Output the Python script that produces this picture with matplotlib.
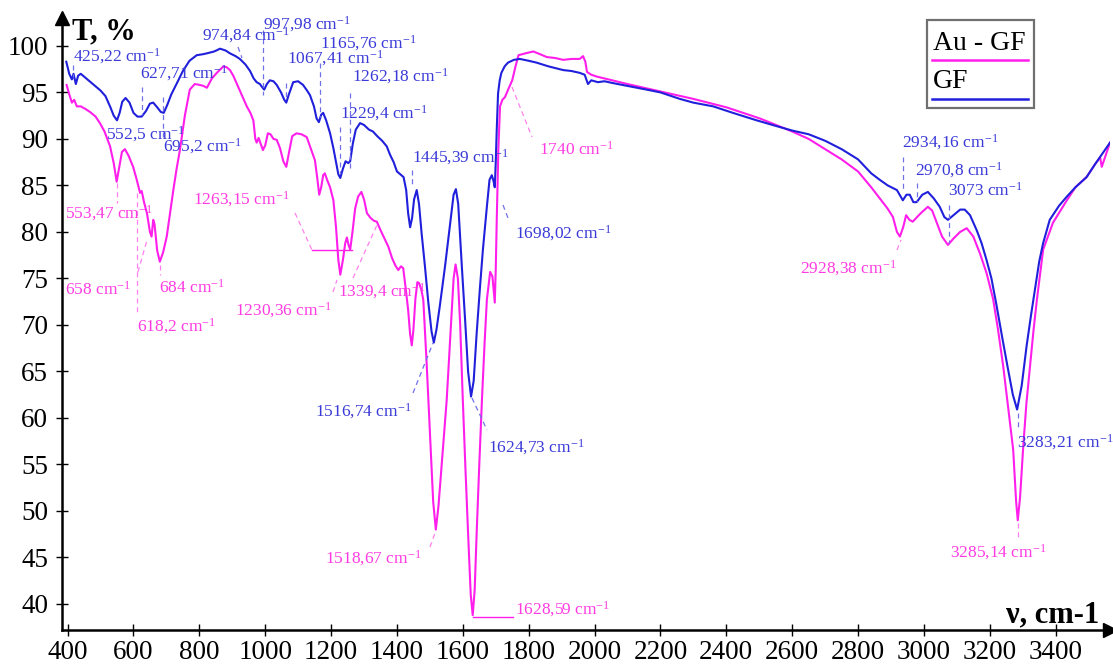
import matplotlib
matplotlib.use("Agg")
import matplotlib.pyplot as plt
from matplotlib.patches import Rectangle
from matplotlib.lines import Line2D

plt.rcParams['font.family'] = ['Liberation Serif', 'DejaVu Serif']
plt.rcParams['mathtext.default'] = 'regular'

# ---------------- data ----------------
gf_wavenumber = [396, 405, 413, 418, 425, 432, 440, 460, 480, 500, 515, 530, 540, 550, 558, 566, 576, 588,
                 600, 612, 625, 638, 650, 660, 672, 683, 692, 702, 715, 732, 750, 770, 792, 810, 823, 845,
                 863, 880, 893, 910, 923, 940, 954, 965, 974, 984, 990, 997, 1005, 1014, 1025, 1035, 1048,
                 1058, 1064, 1072, 1085, 1100, 1115, 1127, 1136, 1148, 1156, 1163, 1170, 1176, 1185, 1197,
                 1207, 1215, 1222, 1228, 1236, 1244, 1252, 1258, 1266, 1275, 1288, 1300, 1315, 1327, 1340,
                 1355, 1369, 1379, 1390, 1400, 1410, 1420, 1428, 1434, 1440, 1446, 1452, 1460, 1467, 1475,
                 1485, 1495, 1505, 1512, 1520, 1530, 1546, 1560, 1572, 1579, 1586, 1597, 1607, 1616, 1625,
                 1633, 1642, 1652, 1661, 1673, 1681, 1688, 1693, 1697, 1700, 1703, 1707, 1712, 1717, 1727,
                 1737, 1755, 1773, 1800, 1824, 1860, 1905, 1930, 1955, 1970, 1980, 1990, 2010, 2030, 2056,
                 2100, 2158, 2200, 2259, 2300, 2360, 2420, 2492, 2550, 2600, 2650, 2700, 2750, 2800, 2840,
                 2866, 2890, 2918, 2936, 2947, 2957, 2968, 2978, 2995, 3012, 3030, 3048, 3062, 3073, 3090,
                 3110, 3124, 3140, 3160, 3175, 3190, 3205, 3220, 3237, 3254, 3270, 3283, 3297, 3312, 3325,
                 3337, 3350, 3362, 3382, 3410, 3434, 3460, 3494, 3520, 3565]
gf_transmittance = [98.3, 97.0, 96.4, 97.0, 95.9, 96.8, 97.0, 96.4, 95.8, 95.2, 94.6, 93.4, 92.5, 92.0, 92.8,
                    94.0, 94.4, 93.9, 92.8, 92.4, 92.4, 93.0, 93.8, 93.9, 93.4, 92.9, 92.8, 93.6, 94.8, 96.0,
                    97.3, 98.4, 99.0, 99.1, 99.2, 99.4, 99.7, 99.5, 99.2, 98.9, 98.6, 98.0, 97.3, 96.5, 96.1,
                    95.9, 95.6, 95.3, 95.9, 96.3, 96.2, 95.8, 95.0, 94.2, 93.9, 94.8, 96.1, 96.2, 95.8, 95.2,
                    94.7, 93.5, 92.2, 91.8, 92.6, 92.8, 92.0, 90.6, 89.0, 87.5, 86.2, 85.8, 86.8, 87.6, 87.4,
                    87.6, 89.5, 91.0, 91.7, 91.5, 91.0, 90.8, 90.3, 89.8, 89.2, 88.3, 87.5, 86.5, 86.2, 85.9,
                    84.5, 82.0, 80.5, 81.5, 83.5, 84.5, 83.0, 79.8, 76.3, 72.5, 69.3, 68.1, 69.5, 72.0, 76.3,
                    80.5, 84.0, 84.6, 83.0, 76.3, 70.5, 65.0, 62.3, 64.0, 69.1, 74.0, 78.1, 82.7, 85.6, 86.1,
                    85.5, 84.8, 87.5, 91.0, 94.9, 96.3, 97.1, 97.8, 98.2, 98.5, 98.6, 98.4, 98.2, 97.8, 97.4,
                    97.3, 97.1, 96.9, 95.9, 96.3, 96.1, 96.2, 96.0, 95.7, 95.3, 95.0, 94.3, 93.9, 93.5, 92.8,
                    92.0, 91.4, 90.9, 90.5, 89.8, 88.9, 87.8, 86.3, 85.6, 85.0, 84.5, 83.4, 84.0, 84.0, 83.2,
                    83.2, 84.0, 84.3, 83.6, 82.7, 81.6, 81.3, 81.8, 82.4, 82.4, 81.8, 80.2, 78.8, 77.0, 75.0,
                    72.2, 68.8, 65.5, 62.5, 60.9, 63.5, 67.8, 71.0, 73.8, 76.8, 78.8, 81.3, 82.8, 83.8, 84.8,
                    85.9, 87.3, 89.6]

augf_wavenumber = [397, 405, 413, 420, 428, 440, 455, 468, 485, 498, 512, 529, 540, 549, 556, 565, 574, 585,
                   599, 610, 620, 625, 632, 641, 650, 655, 660, 664, 672, 680, 690, 701, 711, 721, 731, 741,
                   756, 771, 786, 802, 812, 823, 838, 853, 873, 883, 893, 903, 913, 928, 944, 955, 964, 970,
                   974, 980, 986, 993, 1000, 1008, 1016, 1025, 1035, 1045, 1055, 1064, 1072, 1082, 1095,
                   1110, 1126, 1140, 1151, 1158, 1164, 1170, 1176, 1181, 1189, 1197, 1207, 1215, 1222, 1228,
                   1236, 1243, 1248, 1253, 1258, 1265, 1273, 1282, 1292, 1300, 1309, 1320, 1330, 1339, 1350,
                   1362, 1374, 1385, 1395, 1404, 1412, 1419, 1427, 1434, 1440, 1445, 1450, 1456, 1462, 1467,
                   1474, 1480, 1490, 1500, 1510, 1518, 1526, 1538, 1551, 1563, 1572, 1578, 1585, 1592, 1600,
                   1608, 1616, 1624, 1630, 1636, 1642, 1650, 1658, 1666, 1673, 1683, 1690, 1697, 1700, 1703,
                   1708, 1713, 1720, 1728, 1740, 1750, 1760, 1769, 1790, 1814, 1835, 1855, 1880, 1905, 1930,
                   1955, 1965, 1972, 1977, 1990, 2007, 2100, 2200, 2300, 2400, 2502, 2600, 2650, 2700, 2750,
                   2800, 2840, 2866, 2890, 2906, 2918, 2927, 2937, 2946, 2956, 2966, 2990, 3012, 3025, 3039,
                   3055, 3073, 3090, 3110, 3130, 3150, 3170, 3190, 3210, 3225, 3241, 3256, 3271, 3280, 3285,
                   3292, 3301, 3311, 3322, 3333, 3343, 3362, 3392, 3434, 3460, 3494, 3520, 3535, 3540, 3565]
augf_transmittance = [95.8, 94.8, 93.9, 94.2, 93.5, 93.5, 93.2, 92.9, 92.4, 91.7, 90.8, 89.2, 87.4, 85.4,
                      86.8, 88.6, 88.9, 88.2, 87.0, 85.6, 84.2, 84.4, 83.2, 82.0, 80.0, 79.5, 81.3, 80.8,
                      78.0, 76.8, 77.8, 79.5, 82.0, 84.5, 86.8, 88.8, 92.5, 95.3, 95.9, 95.8, 95.7, 95.5,
                      96.5, 97.1, 97.8, 97.7, 97.4, 96.8, 96.0, 94.8, 93.5, 92.8, 92.0, 90.0, 89.6, 90.1,
                      89.5, 88.8, 89.3, 90.6, 90.5, 90.0, 89.9, 89.0, 87.6, 87.0, 88.5, 90.3, 90.6, 90.5,
                      90.2, 88.8, 87.7, 85.8, 84.0, 84.8, 86.1, 86.3, 85.5, 84.8, 83.4, 80.5, 77.0, 75.4,
                      77.0, 78.8, 79.4, 78.6, 78.1, 80.0, 82.5, 83.8, 84.3, 83.5, 82.0, 81.5, 81.2, 81.1,
                      80.2, 79.3, 78.4, 77.2, 76.4, 75.9, 76.3, 76.1, 73.8, 71.6, 69.0, 67.8, 69.5, 72.8,
                      74.6, 74.5, 73.8, 72.7, 66.0, 58.4, 51.0, 48.0, 50.5, 56.0, 61.9, 69.5, 75.0, 76.5,
                      75.0, 70.0, 61.9, 54.5, 47.6, 41.0, 38.8, 41.5, 47.6, 55.0, 61.9, 68.0, 72.7, 75.7,
                      75.2, 72.4, 76.0, 81.3, 89.0, 93.5, 94.2, 94.5, 95.5, 96.3, 97.8, 99.0, 99.2, 99.4,
                      99.1, 98.8, 98.7, 98.5, 98.6, 98.6, 98.9, 98.3, 97.2, 96.9, 96.7, 95.9, 95.1, 94.3,
                      93.4, 92.2, 90.8, 90.0, 88.9, 87.8, 86.5, 84.8, 83.6, 82.5, 81.6, 80.0, 79.5, 80.5,
                      81.8, 81.3, 81.1, 82.0, 82.7, 82.3, 81.0, 79.5, 78.6, 79.3, 80.0, 80.4, 79.5, 77.7,
                      75.6, 72.8, 69.5, 65.5, 61.0, 56.6, 51.0, 49.0, 51.5, 56.6, 61.5, 65.5, 69.5, 72.7,
                      78.1, 81.0, 83.4, 84.8, 85.9, 87.3, 88.0, 87.0, 89.6]

series_names = ["Au - GF", "GF"]

x_ticks = list(range(400, 3401, 200))
y_ticks = list(range(40, 101, 5))

gf_peak_labels = ["425,22", "552,5", "627,71", "695,2", "974,84", "997,98", "1067,41", "1165,76",
                  "1262,18", "1229,4", "1445,39", "1698,02", "1516,74", "1624,73", "3283,21",
                  "2934,16", "2970,8", "3073"]
augf_peak_labels = ["553,47", "658", "618,2", "684", "1263,15", "1230,36", "1339,4", "1518,67",
                    "1628,59", "1740", "2928,38", "3285,14"]

# ---------------- layout (pixel positions of label text, left edge / vertical centre) ----------------
gf_label_px = [(73, 56), (106, 134), (140, 73), (163, 146), (202, 35), (263, 24), (287, 58), (320, 43),
               (352, 76), (340, 113), (412, 157), (515, 233), (315, 411), (488, 447), (1017, 442),
               (902, 142), (915, 170), (948, 191)]
augf_label_px = [(65, 213), (65, 290), (137, 326), (159, 288), (193, 199), (235, 310), (338, 291),
                 (325, 558), (515, 609), (539, 150), (800, 268), (950, 552)]
gf_leaders_px = [((73, 65), (73, 77)), ((142, 87), (142, 115)), ((163, 97), (163, 137)),
                 ((238, 47), (242, 58)), ((263, 30), (263, 95)), ((286, 83), (286, 100)),
                 ((320, 63), (320, 117)), ((350, 93), (350, 170)), ((340, 127), (340, 173)),
                 ((412, 170), (412, 187)), ((503, 205), (508, 218)), ((413, 393), (433, 343)),
                 ((472, 398), (487, 430)), ((1018, 413), (1018, 430)), ((903, 157), (903, 192)),
                 ((917, 183), (917, 202)), ((949, 205), (949, 243))]
augf_leaders_px = [((117, 183), (117, 203)), ((138, 272), (147, 240)), ((137, 193), (137, 313)),
                   ((160, 265), (160, 275)), ((295, 213), (312, 250)), ((333, 292), (337, 280)),
                   ((353, 278), (377, 225)), ((430, 547), (435, 533)), ((512, 87), (532, 137)),
                   ((897, 250), (901, 240)), ((1018, 523), (1018, 540))]
augf_solid_leaders_px = [((312, 250), (352, 250)), ((473, 617), (513, 617))]

W, H = 1113, 666
BLUE = '#2020DC'
MAGENTA = '#FF1EEB'
BLUE_TXT = '#3A3AD8'
MAG_TXT = '#FF3CE2'

fig = plt.figure(figsize=(W / 100, H / 100), dpi=100)
ax_left, ax_right, ax_top, ax_bottom = 62, 1110, 18, 630
ax = fig.add_axes([ax_left / W, 1 - ax_bottom / H, (ax_right - ax_left) / W, (ax_bottom - ax_top) / H])

ax.plot(augf_wavenumber, augf_transmittance, color=MAGENTA, lw=1.5, zorder=3)
ax.plot(gf_wavenumber, gf_transmittance, color=BLUE, lw=1.5, zorder=4)

ax.set_xlim(383, 3565)
ax.set_ylim(37.2, 103)
ax.set_xticks(x_ticks)
ax.set_yticks(y_ticks)
ax.tick_params(direction='inout', length=8, width=1.0, labelsize=19.5, colors='black')
ax.tick_params(axis='y', pad=6)
ax.tick_params(axis='x', pad=3)
for s in ['top', 'right']:
    ax.spines[s].set_visible(False)
for s in ['left', 'bottom']:
    ax.spines[s].set_linewidth(1.8)

# axis arrows
ax.plot([0], [1], marker='^', color='black', markersize=10, transform=ax.transAxes, clip_on=False)
ax.plot([1], [0], marker='>', color='black', markersize=10, transform=ax.transAxes, clip_on=False)


def fp(x, y):
    return x / W, 1 - y / H


fig.text(*fp(72, 32), "T, %", fontsize=22, fontweight='bold', ha='left', va='center')
fig.text(*fp(1006, 615), "ν, cm-1", fontsize=22, fontweight='bold', ha='left', va='center')

ann_fs = 12.5
for lab, (x, y) in zip(gf_peak_labels, gf_label_px):
    fig.text(*fp(x, y), lab + " cm$^{-1}$", color=BLUE_TXT, fontsize=ann_fs, ha='left', va='center',
             zorder=5)
for lab, (x, y) in zip(augf_peak_labels, augf_label_px):
    fig.text(*fp(x, y), lab + " cm$^{-1}$", color=MAG_TXT, fontsize=ann_fs, ha='left', va='center',
             zorder=5)

for (p0, p1) in gf_leaders_px:
    fig.add_artist(Line2D([p0[0] / W, p1[0] / W], [1 - p0[1] / H, 1 - p1[1] / H], color='#7070E8',
                          lw=0.9, ls=(0, (4, 3))))
for (p0, p1) in augf_leaders_px:
    fig.add_artist(Line2D([p0[0] / W, p1[0] / W], [1 - p0[1] / H, 1 - p1[1] / H], color='#FF80EE',
                          lw=0.9, ls=(0, (4, 3))))
for (p0, p1) in augf_solid_leaders_px:
    fig.add_artist(Line2D([p0[0] / W, p1[0] / W], [1 - p0[1] / H, 1 - p1[1] / H], color=MAGENTA,
                          lw=1.0))

# legend box
fig.add_artist(Rectangle(fp(927, 108), 107 / W, 88 / H, transform=fig.transFigure, facecolor='white',
                         edgecolor='#707070', lw=1.6, zorder=6))
fig.text(*fp(933, 43), series_names[0], fontsize=20, ha='left', va='center', zorder=7)
fig.text(*fp(933, 81), series_names[1], fontsize=20, ha='left', va='center', zorder=7)
fig.add_artist(Line2D([932 / W, 1028 / W], [1 - 60 / H, 1 - 60 / H], color=MAGENTA, lw=1.8, zorder=7))
fig.add_artist(Line2D([932 / W, 1028 / W], [1 - 99 / H, 1 - 99 / H], color=BLUE, lw=1.8, zorder=7))

fig.savefig("out.png", dpi=100)
